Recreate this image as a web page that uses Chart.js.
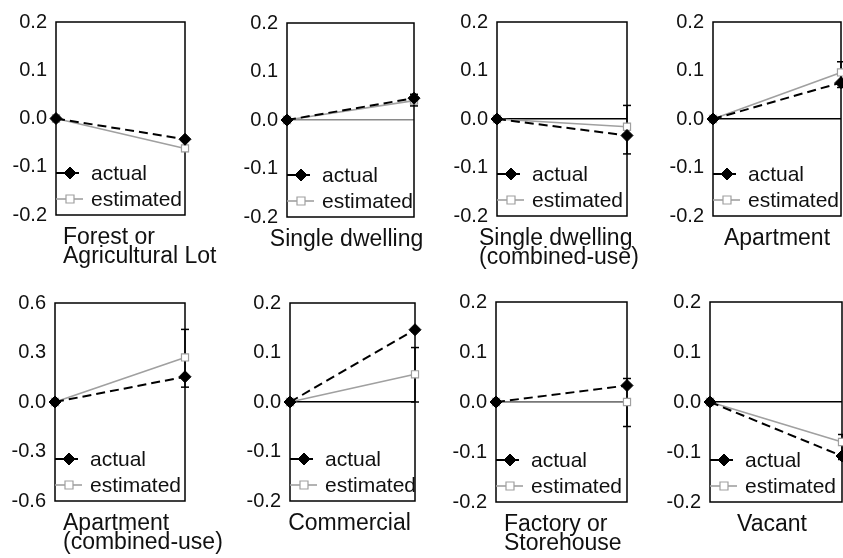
<!DOCTYPE html>
<html>
<head>
<meta charset="utf-8">
<script src="https://cdn.jsdelivr.net/npm/chart.js@4.4.0/dist/chart.umd.min.js"></script>
<style>
  html, body { margin: 0; padding: 0; background: #fff; }
  #wrap { position: relative; width: 843px; height: 558px; overflow: hidden; }
  #wrap canvas { position: absolute; }
</style>
</head>
<body>
<div id="wrap"></div>
<script>
// panel categories (label lines)
const categories = [
    ['Forest or', 'Agricultural Lot'],
    ['Single dwelling'],
    ['Single dwelling', '(combined-use)'],
    ['Apartment'],
    ['Apartment', '(combined-use)'],
    ['Commercial'],
    ['Factory or', 'Storehouse'],
    ['Vacant']
];
const xPoints = [0, 1];
const seriesNames = ['actual', 'estimated'];

const actualStart    = [0, 0, 0, 0, 0, 0, 0, 0];
const actualEnd      = [-0.043, 0.045, -0.034, 0.075, 0.153, 0.146, 0.033, -0.108];
const estimatedStart = [0, 0, 0, 0, 0, 0, 0, 0];
const estimatedEnd   = [-0.062, 0.040, -0.016, 0.096, 0.270, 0.056, 0.000, -0.080];
const errorLow       = [-0.068, 0.029, -0.072, 0.065, 0.090, 0.000, -0.049, -0.115];
const errorHigh      = [-0.040, 0.053, 0.028, 0.118, 0.440, 0.110, 0.047, -0.065];

// y tick layout per panel
const yMin  = [-0.2, -0.2, -0.2, -0.2, -0.6, -0.2, -0.2, -0.2];
const yMax  = [0.2, 0.2, 0.2, 0.2, 0.6, 0.2, 0.2, 0.2];
const yStep = [0.1, 0.1, 0.1, 0.1, 0.3, 0.1, 0.1, 0.1];

// panel frames (left, top, right, bottom) and label placement
const frames = [
    [56, 15, 185, 215], [287, 16, 414, 217], [497, 15, 627, 216], [713, 15, 841, 216],
    [55, 296, 185, 501], [290, 296, 415, 501], [496, 295, 627, 502], [710, 295, 842, 502]
];
const zeroLine = [null, '#8a8a8a', '#000', '#000', null, '#000', '#000', '#000'];
const labelPlace = [
    { align: 'left', dx: 7 }, { align: 'center', dx: -4 }, { align: 'left', dx: -18 }, { align: 'center', dx: 0 },
    { align: 'left', dx: 8 }, { align: 'center', dx: -3 }, { align: 'left', dx: 8 }, { align: 'center', dx: -4 }
];

const PAD_L = 56, PAD_T = 14, PAD_R = 40, PAD_B = 62;
const FONT = '"Liberation Sans", Arial, Helvetica, sans-serif';

function drawMarker(ctx, style, x, y, r, fill, stroke, lw) {
    ctx.save();
    ctx.beginPath();
    if (style === 'rectRot') {
        ctx.moveTo(x, y - r); ctx.lineTo(x + r, y); ctx.lineTo(x, y + r); ctx.lineTo(x - r, y);
        ctx.closePath();
    } else {
        ctx.rect(x - r * 0.8, y - r * 0.8, r * 1.6, r * 1.6);
    }
    ctx.fillStyle = fill; ctx.fill();
    ctx.lineWidth = lw; ctx.strokeStyle = stroke; ctx.stroke();
    ctx.restore();
}

const panelDecor = {
    id: 'panelDecor',
    beforeDatasetsDraw(chart) {
        const { ctx, chartArea: a } = chart;
        ctx.save();
        ctx.strokeStyle = '#000';
        ctx.lineWidth = 1.5;
        ctx.strokeRect(a.left, a.top, a.right - a.left, a.bottom - a.top);
        ctx.restore();
    },
    afterDraw(chart, args, opts) {
        const { ctx, chartArea: a } = chart;
        // legend inside the frame, bottom-left
        [0, 1].forEach((i, row) => {
            const ds = chart.data.datasets[i];
            const y = a.bottom - 42 + row * 26;
            ctx.save();
            ctx.strokeStyle = ds.borderColor;
            ctx.lineWidth = ds.borderWidth;
            ctx.setLineDash(ds.borderDash || []);
            ctx.beginPath();
            ctx.moveTo(a.left, y); ctx.lineTo(a.left + 27, y);
            ctx.stroke();
            ctx.restore();
            drawMarker(ctx, ds.pointStyle, a.left + 14, y, ds.pointRadius,
                ds.pointBackgroundColor, ds.pointBorderColor, ds.pointBorderWidth);
            ctx.save();
            ctx.fillStyle = '#111';
            ctx.font = '21px ' + FONT;
            ctx.textBaseline = 'middle';
            ctx.textAlign = 'left';
            ctx.fillText(ds.label, a.left + 35, y + 1);
            ctx.restore();
        });
        // category label below the frame
        ctx.save();
        ctx.fillStyle = '#111';
        ctx.font = '23px ' + FONT;
        ctx.textBaseline = 'alphabetic';
        ctx.textAlign = opts.align;
        const x = (opts.align === 'left' ? a.left : (a.left + a.right) / 2) + opts.dx;
        opts.lines.forEach((line, k) => ctx.fillText(line, x, a.bottom + 29 + k * 19));
        ctx.restore();
    }
};

const wrap = document.getElementById('wrap');

categories.forEach((lines, p) => {
    const [l, t, r, b] = frames[p];
    const canvas = document.createElement('canvas');
    const w = (r - l) + PAD_L + PAD_R;
    const h = (b - t) + PAD_T + PAD_B;
    canvas.width = w; canvas.height = h;
    canvas.style.left = (l - PAD_L) + 'px';
    canvas.style.top = (t - PAD_T) + 'px';
    canvas.style.width = w + 'px';
    canvas.style.height = h + 'px';
    wrap.appendChild(canvas);

    const zero = zeroLine[p];
    new Chart(canvas.getContext('2d'), {
        type: 'line',
        data: {
            datasets: [
                {
                    label: seriesNames[0],
                    data: [{ x: xPoints[0], y: actualStart[p] }, { x: xPoints[1], y: actualEnd[p] }],
                    borderColor: '#000', borderWidth: 2, borderDash: [9, 5],
                    pointStyle: 'rectRot', pointRadius: 6,
                    pointBackgroundColor: '#000', pointBorderColor: '#000', pointBorderWidth: 1,
                    clip: false
                },
                {
                    label: seriesNames[1],
                    data: [{ x: xPoints[0], y: estimatedStart[p] }, { x: xPoints[1], y: estimatedEnd[p] }],
                    borderColor: '#a0a0a0', borderWidth: 1.6,
                    pointStyle: 'rect', pointRadius: 5,
                    pointBackgroundColor: '#fff', pointBorderColor: '#a0a0a0', pointBorderWidth: 1.2,
                    clip: false
                },
                {
                    label: 'error',
                    data: [{ x: xPoints[1], y: errorLow[p] }, { x: xPoints[1], y: errorHigh[p] }],
                    borderColor: '#000', borderWidth: 1.5,
                    pointStyle: 'line', pointRadius: 4,
                    pointBorderColor: '#000', pointBorderWidth: 1.5,
                    clip: false
                }
            ]
        },
        options: {
            responsive: false,
            maintainAspectRatio: false,
            animation: false,
            devicePixelRatio: 1,
            layout: { padding: { left: 0, top: PAD_T, right: PAD_R, bottom: 0 } },
            plugins: {
                legend: { display: false },
                tooltip: { enabled: false },
                panelDecor: { lines: lines, align: labelPlace[p].align, dx: labelPlace[p].dx }
            },
            scales: {
                x: {
                    type: 'linear', min: 0, max: 1,
                    ticks: { display: false },
                    grid: { display: false },
                    border: { display: false },
                    afterFit(scale) { scale.height = PAD_B; }
                },
                y: {
                    min: yMin[p], max: yMax[p],
                    ticks: {
                        stepSize: yStep[p],
                        padding: 9,
                        color: '#111',
                        font: { family: FONT, size: 20 },
                        callback: v => v.toFixed(1)
                    },
                    grid: {
                        drawTicks: false,
                        lineWidth: 1.5,
                        color: c => (zero && c.tick && Math.abs(c.tick.value) < 1e-9) ? zero : 'rgba(0,0,0,0)'
                    },
                    border: { display: false },
                    afterFit(scale) { scale.width = PAD_L; }
                }
            }
        },
        plugins: [panelDecor]
    });
});
</script>
</body>
</html>
